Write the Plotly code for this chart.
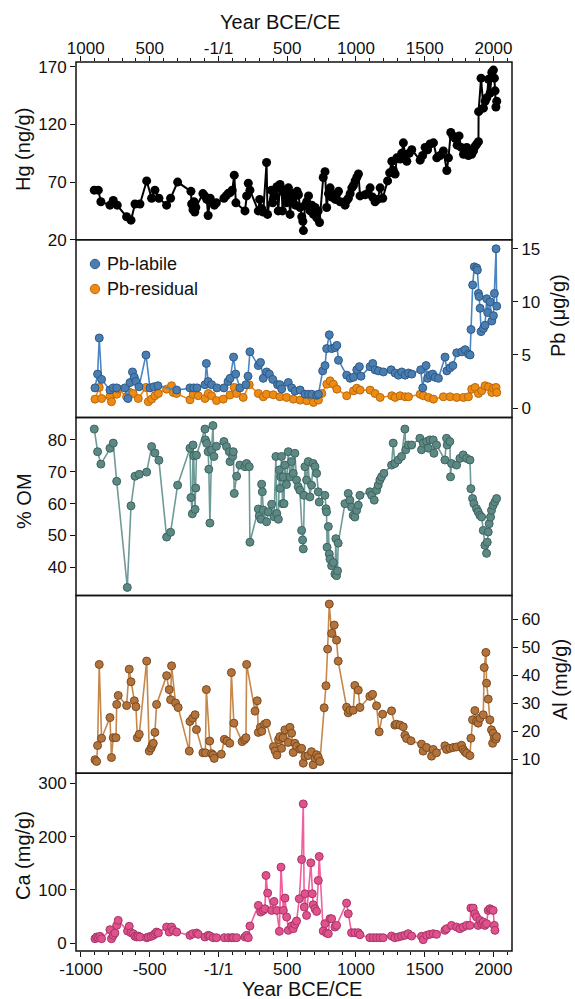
import plotly.graph_objects as go

# ---------------- data ----------------
hg_year = [-903, -874, -855, -789, -765, -736, -668, -636, -607, -571, -522, -486, -462, -433, -377, -348, -297,
           -200, -195, -185, -178, -172, -165, -113, -100, -85, -75, -60, -45, -30, -15, 40, 55, 70, 85, 100, 115,
           127, 193, 205, 217, 229, 290, 300, 315, 326, 350, 357, 385, 395, 410, 425, 435, 448, 460, 466, 480, 495,
           509, 521, 533, 545, 560, 572, 582, 594, 606, 614, 618, 630, 642, 655, 667, 679, 691, 703, 715, 725, 735,
           762, 775, 787, 800, 812, 824, 836, 849, 861, 873, 885, 921, 933, 945, 958, 970, 982, 994, 1006, 1018,
           1030, 1067, 1085, 1103, 1121, 1139, 1158, 1176, 1195, 1230, 1245, 1261, 1273, 1285, 1297, 1321, 1333,
           1345, 1357, 1370, 1388, 1406, 1467, 1485, 1503, 1521, 1539, 1564, 1588, 1612, 1636, 1661, 1673, 1690,
           1705, 1721, 1736, 1750, 1766, 1782, 1794, 1806, 1818, 1842, 1855, 1867, 1879, 1891, 1892, 1910, 1927,
           1940, 1952, 1964, 1976, 1988, 2000, 2007, 2012, 2018, 2024]
hg_val = [63, 63, 53, 50, 54, 50, 40, 37, 51, 51, 71, 56, 63, 56, 50, 56, 70,
          62, 51, 46, 53, 44, 48, 60, 58, 55, 41, 56, 52, 50, 52, 56, 58, 60, 61, 63, 76,
          52, 45, 58, 69, 63, 45, 55, 47, 44, 87, 42, 63, 52, 58, 66, 45, 68, 64, 45, 60, 52,
          65, 42, 60, 56, 50, 62, 59, 48, 40, 36, 28, 50, 53, 58, 45, 50, 42, 48, 39, 45, 35,
          74, 79, 48, 60, 65, 57, 59, 55, 60, 62, 53, 50, 54, 56, 60, 65, 67, 71, 74, 77,
          58, 59, 60, 65, 57, 53, 55, 65, 56, 71, 78, 88, 80, 77, 91, 90, 95,
          104, 94, 88, 95, 98, 89, 93, 100, 98, 103, 104, 91, 93, 97, 80, 91, 113,
          110, 108, 102, 110, 100, 94, 98, 100, 93, 94, 97, 101, 103, 105, 131, 160, 134,
          140, 143, 159, 147, 165, 167, 160, 149, 135, 140]

pbl_year = [-898, -879, -867, -850, -789, -765, -740, -680, -658, -643, -625, -612, -600, -578, -527, -498, -470,
            -440, -304, -207, -180, -156, -98, -88, -75, -50, -11, 40, 70, 85, 110, 125, 156, 200, 215, 229, 290,
            306, 326, 350, 370, 395, 430, 447, 460, 508, 533, 557, 594, 630, 655, 679, 715, 727, 758, 775, 787,
            806, 824, 848, 861, 873, 933, 958, 982, 1006, 1025, 1037, 1103, 1122, 1139, 1164, 1200, 1256, 1285,
            1309, 1333, 1358, 1382, 1406, 1471, 1486, 1510, 1522, 1539, 1558, 1576, 1600, 1648, 1661, 1685, 1705,
            1733, 1770, 1794, 1818, 1830, 1837, 1849, 1861, 1878, 1883, 1891, 1895, 1903, 1910, 1927, 1939, 1951,
            1958, 1976, 1988, 2000, 2007, 2019, 2024]
pbl_val = [1.9, 3.2, 6.6, 2.7, 1.7, 1.9, 1.9, 1.9, 0.9, 2.4, 3.4, 2.9, 2.5, 2.0, 5.0, 1.9, 2.0,
           2.1, 1.7, 1.9, 1.9, 1.9, 2.2, 4.2, 2.5, 2.2, 1.9, 1.9, 2.5, 2.8, 4.8, 3.2, 1.9, 2.2, 3.0, 5.3, 4.0,
           4.3, 2.8, 3.4, 3.2, 2.7, 2.2, 2.2, 1.8, 2.4, 1.9, 1.6, 1.7, 1.3, 1.3, 1.3, 1.2, 1.3, 3.5, 4.0, 5.6,
           6.9, 5.6, 5.7, 5.9, 4.5, 3.1, 2.8, 2.9, 3.6, 3.9, 3.0, 3.9, 4.2, 3.6, 3.5, 3.4, 3.6, 3.3,
           3.1, 3.4, 3.1, 3.3, 3.2, 3.6, 1.9, 4.0, 2.8, 3.1, 3.2, 2.9, 2.8, 4.8, 3.5, 3.8, 4.0,
           5.2, 5.3, 5.5, 5.1, 5.0, 7.4, 11.6, 13.3, 13.2, 13.0, 10.8, 10.5, 9.4, 7.2, 7.5, 7.8, 10.3,
           9.0, 10.0, 8.2, 8.7, 10.8, 15.0, 9.6]

pbr_year = [-898, -867, -850, -789, -778, -740, -729, -668, -649, -620, -583, -527, -510, -486, -462, -437, -377,
            -341, -329, -304, -207, -183, -147, -98, -74, -50, -14, 35, 83, 115, 132, 180, 224, 290, 326, 350, 399,
            447, 496, 545, 594, 642, 679, 691, 727, 752, 788, 812, 836, 861, 933, 982, 1006, 1030, 1103, 1139, 1176,
            1261, 1285, 1321, 1358, 1382, 1467, 1491, 1527, 1564, 1636, 1685, 1733, 1782, 1818, 1842, 1867, 1891,
            1915, 1939, 1964, 1988, 2000, 2019, 2024]
pbr_val = [0.84, 1.94, 0.9, 1.1, 0.6, 1.3, 1.8, 1.06, 1.5, 1.37, 0.9, 1.94, 0.6, 0.84, 1.16, 1.37, 1.78,
           2.1, 1.47, 1.37, 0.78, 1.3, 1.16, 0.9, 1.37, 1.16, 0.7, 0.84, 1.22, 1.94, 1.37, 1.0, 2.19, 1.37, 1.06, 1.3, 1.25,
           1.06, 1.0, 0.84, 0.75, 0.69, 1.06, 0.53, 0.75, 1.37, 2.25, 2.56, 2.25, 1.78, 1.16, 1.62, 1.87, 1.69, 1.69, 1.37, 1.0,
           1.16, 1.0, 1.16, 1.06, 1.06, 1.3, 1.16, 1.0, 0.84, 1.06, 1.06, 1.0, 1.0, 1.06, 1.78, 1.94, 1.37,
           1.62, 2.1, 2.0, 1.47, 1.87, 1.94, 1.47]

om_year = [-903, -879, -855, -789, -765, -740, -663, -636, -607, -576, -522, -486, -462, -433, -377, -348, -297,
           -207, -200, -190, -185, -180, -170, -165, -160, -98, -95, -85, -75, -70, -62, -50, -40, -33, -15, 40, 59,
           79, 84, 103, 108, 115, 132, 156, 193, 205, 224, 229, 290, 297, 309, 314, 319, 326, 350, 362, 387, 404,
           418, 424, 436, 443, 448, 453, 459, 466, 471, 477, 483, 495, 508, 520, 532, 544, 556, 568, 580, 592, 605,
           612, 617, 622, 629, 641, 653, 665, 677, 689, 702, 714, 726, 733, 774, 782, 786, 790, 799, 806, 811, 823,
           835, 847, 854, 859, 866, 871, 920, 944, 956, 968, 980, 992, 1005, 1017, 1029, 1101, 1114, 1133, 1150,
           1162, 1174, 1186, 1203, 1259, 1271, 1283, 1308, 1332, 1356, 1363, 1380, 1405, 1465, 1477, 1489, 1514,
           1526, 1538, 1562, 1567, 1586, 1647, 1659, 1664, 1683, 1688, 1695, 1732, 1756, 1780, 1805, 1829, 1836,
           1848, 1858, 1877, 1889, 1902, 1914, 1926, 1938, 1950, 1955, 1962, 1969, 1979, 1986, 1998, 2010, 2023]
om_val = [83.4, 76.3, 72.4, 77.4, 79.0, 67.0, 33.7, 59.3, 68.6, 69.2, 69.9, 77.9, 75.9, 73.6, 49.5, 51.0, 65.8,
          77.4, 61.9, 56.8, 78.4, 75.0, 58.2, 64.9, 75.2, 83.4, 80.0, 78.9, 76.3, 70.8, 53.9, 76.8, 84.5, 74.8, 78.0, 79.5, 77.9,
          76.3, 73.2, 74.8, 76.3, 63.2, 68.6, 72.1, 71.6, 72.6, 71.6, 47.9, 58.3, 56.2, 55.1, 66.1, 63.7, 58.0, 54.3, 57.4, 59.8, 55.9,
          74.8, 56.9, 55.1, 70.6, 64.8, 68.4, 74.8, 60.0, 68.4, 60.0, 72.1, 66.0, 76.3, 68.4, 73.2, 69.5, 75.8, 67.4, 65.3, 64.2, 51.6,
          48.6, 45.8, 62.6, 71.6, 67.4, 73.2, 62.1, 65.8, 72.6, 71.6, 69.5, 63.7, 60.5, 62.6, 58.4, 57.4, 46.3, 52.8, 44.2, 42.6, 40.5,
          41.5, 37.9, 49.0, 37.4, 38.9, 47.6, 60.0, 63.2, 61.1, 58.9, 56.3, 55.8, 57.9, 59.5, 62.6, 63.7, 62.6, 61.1, 64.2,
          65.8, 67.4, 68.4, 69.5, 72.1, 79.0, 72.6, 73.7, 74.8, 83.4, 76.9, 78.4, 78.4, 80.5, 76.9, 79.0, 79.5,
          77.4, 80.0, 80.0, 75.8, 78.4, 73.7, 80.5, 78.4, 79.5, 68.4, 72.6, 72.1, 74.2, 75.3, 74.2, 73.7, 64.7,
          61.6, 60.0, 58.4, 57.4, 56.3, 55.8, 51.6, 46.9, 44.4, 47.9, 51.1, 53.7, 55.8, 57.9, 59.5, 60.5, 61.6]

al_year = [-898, -886, -879, -867, -850, -789, -778, -765, -745, -740, -729, -668, -649, -636, -612, -600, -590,
           -576, -522, -503, -490, -482, -474, -462, -450, -377, -358, -348, -341, -312, -293, -212, -207, -188,
           -170, -160, -113, -95, -88, -64, -50, -40, -31, 21, 43, 62, 82, 94, 112, 172, 190, 200, 205, 266, 282,
           290, 305, 315, 335, 350, 400, 412, 425, 437, 447, 459, 470, 483, 508, 520, 532, 544, 556, 568, 592, 605,
           617, 629, 653, 677, 689, 702, 714, 726, 738, 769, 782, 794, 806, 823, 842, 859, 871, 932, 944, 956, 980,
           992, 1017, 1029, 1101, 1121, 1150, 1169, 1194, 1259, 1283, 1295, 1320, 1344, 1356, 1368, 1400, 1477,
           1489, 1514, 1550, 1562, 1586, 1647, 1659, 1683, 1708, 1732, 1768, 1780, 1792, 1805, 1829, 1836, 1848,
           1865, 1877, 1889, 1902, 1926, 1933, 1945, 1950, 1962, 1974, 1986, 1994, 1998, 2006, 2018, 2023]
al_val = [9.8, 9.2, 14.9, 43.9, 17.5, 24.9, 10.6, 17.7, 17.7, 29.6, 32.8, 29.2, 42.2, 37.7, 30.9, 28.8, 17.7,
          18.9, 45.1, 12.9, 14.0, 15.0, 15.7, 19.6, 29.6, 39.9, 34.9, 31.3, 43.4, 30.1, 28.5, 12.9, 23.5, 24.7,
          25.9, 20.6, 12.3, 12.3, 34.9, 16.5, 12.0, 11.5, 10.3, 11.8, 17.1, 16.5, 15.7, 41.0, 22.9, 16.3, 17.0, 17.7, 43.9, 27.2, 30.9,
          19.6, 21.4, 20.0, 22.5, 22.9, 14.5, 13.0, 11.5, 17.0, 18.1, 13.9, 17.7, 20.5, 16.0, 21.4, 19.3, 12.4, 15.7, 14.6, 13.6, 13.9,
          8.6, 11.0, 11.3, 12.7, 8.0, 10.4, 11.6, 10.7, 9.2, 28.4, 36.3, 49.4, 65.5, 55.0, 58.0, 52.6, 45.1, 28.6, 26.6, 27.5, 27.5,
          36.4, 34.7, 28.5, 32.5, 33.2, 29.1, 19.8, 26.1, 27.3, 22.2, 22.5, 22.2, 21.6, 18.6, 17.4, 16.6, 15.4,
          12.9, 14.2, 11.1, 13.5, 12.3, 14.8, 13.5, 13.9, 14.2, 14.4, 15.0, 13.5, 12.7, 12.1, 11.3, 17.5, 24.1,
          27.4, 23.5, 22.9, 24.7, 25.9, 42.8, 48.2, 37.2, 31.5, 24.1, 20.5, 15.7, 19.3, 17.5, 17.2, 18.1]

ca_year = [-898, -886, -874, -862, -850, -789, -778, -765, -753, -740, -729, -661, -649, -636, -620, -607, -595,
           -583, -571, -522, -510, -490, -474, -462, -450, -437, -377, -358, -341, -329, -304, -207, -188, -159,
           -147, -98, -74, -62, -38, -14, 42, 71, 96, 108, 132, 193, 205, 217, 229, 290, 307, 326, 338, 346, 358,
           387, 404, 424, 443, 455, 472, 484, 496, 508, 532, 544, 556, 568, 588, 605, 617, 624, 629, 641, 672, 682,
           689, 702, 714, 726, 733, 762, 774, 786, 799, 811, 823, 847, 859, 932, 944, 968, 992, 1017, 1029, 1101,
           1126, 1150, 1174, 1198, 1259, 1283, 1308, 1332, 1356, 1380, 1405, 1477, 1489, 1514, 1538, 1562, 1586,
           1647, 1659, 1695, 1732, 1756, 1780, 1805, 1829, 1836, 1853, 1865, 1877, 1889, 1902, 1914, 1926, 1938,
           1950, 1962, 1974, 1986, 1998, 2006, 2011]
ca_val = [8.1, 11.3, 10.0, 12.5, 8.1, 25.0, 8.1, 14.4, 18.8, 33.1, 42.5, 22.5, 31.3, 19.4, 17.5, 12.5, 11.3,
          13.1, 11.3, 10.0, 11.3, 12.5, 14.4, 17.5, 20.6, 18.8, 30.0, 20.6, 30.0, 23.8, 20.6, 14.4, 17.5, 18.8,
          16.3, 11.3, 14.4, 13.1, 10.0, 10.0, 10.0, 10.0, 10.0, 10.0, 10.0, 11.3, 14.4, 10.0, 31.9, 70.6, 58.1, 61.3, 64.4, 126.9, 93.8,
          61.3, 78.1, 61.3, 21.9, 142.5, 61.3, 84.4, 48.8, 23.8, 31.9, 26.9, 35.0, 41.3, 83.1, 156.9, 261.3, 67.5, 92.5, 51.9, 150.6, 92.5,
          71.9, 64.4, 59.4, 117.5, 162.5, 22.5, 36.3, 18.8, 17.5, 45.6, 45.6, 30.0, 33.1, 75.0, 55.0, 19.4, 19.4, 19.4, 15.6, 10.0,
          10.0, 10.0, 10.0, 10.0, 13.1, 10.0, 11.3, 13.1, 14.4, 17.5, 13.1, 12.5, 6.3, 14.4, 16.3, 17.5, 16.3,
          23.8, 26.9, 33.1, 30.0, 26.9, 30.0, 33.1, 33.1, 65.6, 65.6, 55.0, 48.8, 33.1, 42.5, 36.3, 39.4, 33.1,
          36.3, 61.3, 64.4, 62.5, 61.3, 33.1, 23.8]

x_tickvals = [-1000, -500, 0, 500, 1000, 1500, 2000]
x_bottom_labels = ["-1000", "-500", "-1/1", "500", "1000", "1500", "2000"]
x_top_labels = ["\u00a0\u00a01000", "500", "-1/1", "500", "1000", "1500", "2000"]

# ---------------- figure ----------------
W, H = 575, 999
ML, MR, MT, MB = 76, 63, 62, 48
PW, PH = W - ML - MR, H - MT - MB
FONT = "Liberation Sans, Arial, sans-serif"
INK = "#111111"

fig = go.Figure()


def add(x, y, fill, edge, linec, yaxis, xaxis="x", size=8, lw=1.6, ew=1):
    fig.add_trace(go.Scatter(
        x=x, y=y, mode="lines+markers", xaxis=xaxis, yaxis=yaxis, showlegend=False,
        line=dict(color=linec, width=lw),
        marker=dict(size=size, color=fill, line=dict(color=edge, width=ew))))


add(hg_year, hg_val, "#000000", "#000000", "#000000", "y5", xaxis="x2", size=9, lw=2, ew=0)
add(pbr_year, pbr_val, "#ef8b13", "#b86a0c", "#f08a10", "y4")
add(pbl_year, pbl_val, "#4a7eb2", "#2d5a86", "#4a86c2", "y4")
add(om_year, om_val, "#5d8985", "#3e6461", "#6f9b97", "y3")
add(al_year, al_val, "#b3733a", "#7a4b22", "#c6874b", "y2")
add(ca_year, ca_val, "#e0528c", "#a93468", "#f25f9c", "y")

XR = [-1036, 2135]
xcommon = dict(range=XR, tickvals=x_tickvals, ticks="outside", ticklen=5, tickwidth=1.3,
               tickcolor=INK, showgrid=False, zeroline=False, showline=False, domain=[0, 1],
               tickfont=dict(size=17, family=FONT, color=INK),
               minor=dict(ticks="outside", ticklen=3, tickwidth=1, tickcolor=INK, dtick=100, tick0=0,
                          showgrid=False))

ycommon = dict(ticks="outside", ticklen=5, tickwidth=1.3, tickcolor=INK, showgrid=False,
               zeroline=False, showline=False, tickfont=dict(size=17, family=FONT, color=INK))

fig.update_layout(
    width=W, height=H,
    margin=dict(l=ML, r=MR, t=MT, b=MB),
    paper_bgcolor="white", plot_bgcolor="white",
    font=dict(family=FONT, size=17, color=INK),
    xaxis=dict(anchor="y", side="bottom", ticktext=x_bottom_labels, ticklabelstandoff=-2, **xcommon),
    xaxis2=dict(anchor="y5", side="top", ticktext=x_top_labels, ticklabelstandoff=-5, **xcommon),
    yaxis=dict(domain=[0.0, 0.2], anchor="x", side="left", range=[-15, 319], tickvals=[0, 100, 200, 300], **ycommon),
    yaxis2=dict(domain=[0.2, 0.4], anchor="x", side="right", range=[5, 68.6], tickvals=[10, 20, 30, 40, 50, 60], **ycommon),
    yaxis3=dict(domain=[0.4, 0.6], anchor="x", side="left", range=[31.2, 87], tickvals=[40, 50, 60, 70, 80], **ycommon),
    yaxis4=dict(domain=[0.6, 0.8], anchor="x", side="right", range=[-0.9, 15.85], tickvals=[0, 5, 10, 15], **ycommon),
    yaxis5=dict(domain=[0.8, 1.0], anchor="x2", side="left", range=[20, 174], tickvals=[20, 70, 120, 170], **ycommon),
)

# panel frames
shapes = []
for d0, d1 in [(0.0, 0.2), (0.2, 0.4), (0.4, 0.6), (0.6, 0.8), (0.8, 1.0)]:
    shapes.append(dict(type="rect", xref="paper", yref="paper", x0=0, x1=1, y0=d0, y1=d1,
                       line=dict(color=INK, width=1.5), fillcolor="rgba(0,0,0,0)", layer="above"))


def px_x(p):
    return (p - ML) / PW


def px_y(p):
    return (H - MB - p) / PH


# legend (Pb panel)
leg = [("Pb-labile", "#4a7eb2", "#2d5a86", 264), ("Pb-residual", "#ef8b13", "#b86a0c", 289)]
annotations = []
for label, fill, edge, yy in leg:
    shapes.append(dict(type="circle", xref="paper", yref="paper", xsizemode="pixel", ysizemode="pixel",
                       xanchor=px_x(95), yanchor=px_y(yy), x0=-4.7, x1=4.7, y0=-4.7, y1=4.7,
                       fillcolor=fill, line=dict(color=edge, width=1)))
    annotations.append(dict(text=label, xref="paper", yref="paper", x=px_x(105), y=px_y(yy),
                            xanchor="left", yanchor="middle", showarrow=False,
                            font=dict(size=18, family=FONT, color=INK)))

# axis titles
titles = [
    ("Year BCE/CE", 280, 22, 0),
    ("Year BCE/CE", 302, 989, 0),
    ("Hg (ng/g)", 23, 150, -90),
    ("% OM", 24, 501, -90),
    ("Ca (mg/g)", 23, 856, -90),
    ("Pb (μg/g)", 558, 316, -90),
    ("Al (mg/g)", 560, 680, -90),
]
for t, xx, yy, ang in titles:
    annotations.append(dict(text=t, xref="paper", yref="paper", x=px_x(xx), y=px_y(yy),
                            xanchor="center", yanchor="middle", showarrow=False, textangle=ang,
                            font=dict(size=20, family=FONT, color=INK)))

fig.update_layout(shapes=shapes, annotations=annotations)
fig.write_html("out.html", config={"displayModeBar": False},
               post_script="document.body.style.margin='0px';document.body.style.padding='0px';"
                           "document.body.style.overflow='hidden';")
